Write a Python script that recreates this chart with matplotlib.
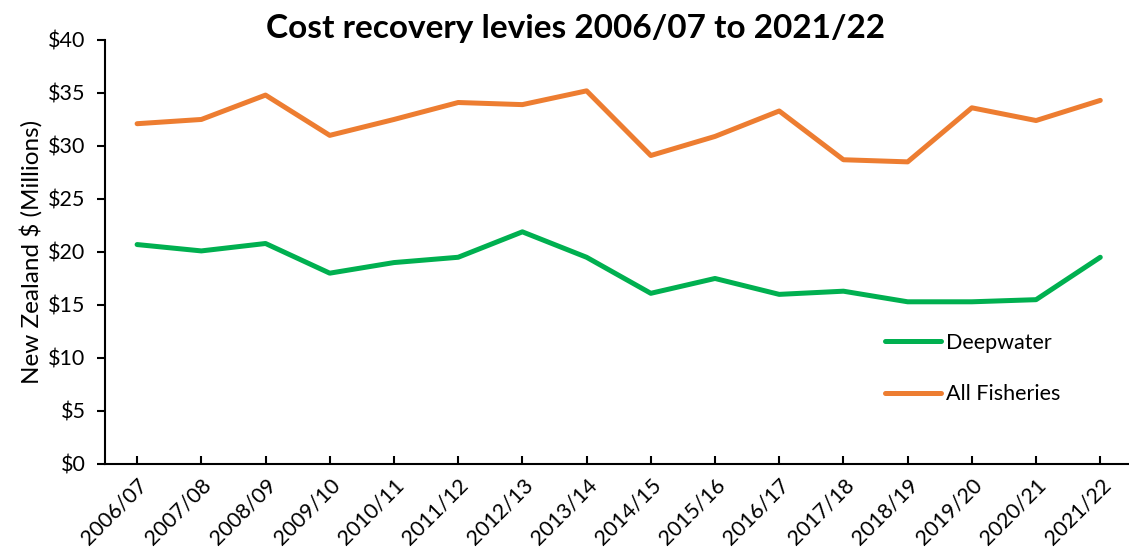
import matplotlib.pyplot as plt
from matplotlib.ticker import FuncFormatter

plt.rcParams['font.family'] = ['Lato', 'DejaVu Sans']

years = ['2006/07', '2007/08', '2008/09', '2009/10', '2010/11', '2011/12',
         '2012/13', '2013/14', '2014/15', '2015/16', '2016/17', '2017/18',
         '2018/19', '2019/20', '2020/21', '2021/22']
deepwater = [20.7, 20.1, 20.8, 18.0, 19.0, 19.5, 21.9, 19.5, 16.1, 17.5,
             16.0, 16.3, 15.3, 15.3, 15.5, 19.5]
all_fisheries = [32.1, 32.5, 34.8, 31.0, 32.5, 34.1, 33.9, 35.2, 29.1, 30.9,
                 33.3, 28.7, 28.5, 33.6, 32.4, 34.3]

fig = plt.figure(figsize=(11.29, 5.55), dpi=100)
ax = fig.add_axes([0.093, 0.164, 0.91, 0.764])

x = range(len(years))
ax.plot(x, deepwater, color='#00B050', lw=3.6, label='Deepwater', solid_capstyle='round')
ax.plot(x, all_fisheries, color='#ED7D31', lw=3.6, label='All Fisheries', solid_capstyle='round')

ax.set_xlim(-0.5, len(years) - 0.5)
ax.set_ylim(0, 40)
ax.set_yticks(range(0, 41, 5))
ax.yaxis.set_major_formatter(FuncFormatter(lambda v, p: f'${v:.0f}'))
ax.set_xticks(list(x))
ax.set_xticklabels(years, rotation=45, ha='right', rotation_mode='anchor')

for s in ['top', 'right']:
    ax.spines[s].set_visible(False)
for s in ['left', 'bottom']:
    ax.spines[s].set_linewidth(1.5)
ax.tick_params(axis='y', direction='out', length=6, width=1.5, labelsize=15.5, pad=8)
ax.tick_params(axis='x', direction='in', length=6, width=1.5, labelsize=15.5, pad=8)

ax.set_ylabel('New Zealand $ (Millions)', fontsize=17.5, labelpad=4)
fig.text(0.51, 0.948, 'Cost recovery levies 2006/07 to 2021/22', fontsize=24,
         fontweight='bold', ha='center', va='center')

ax.legend(loc='upper left', bbox_to_anchor=(0.74, 0.355), frameon=False, fontsize=15.5,
          handlelength=2.6, labelspacing=1.45, handletextpad=0.25)

fig.savefig('out.png', dpi=100)
